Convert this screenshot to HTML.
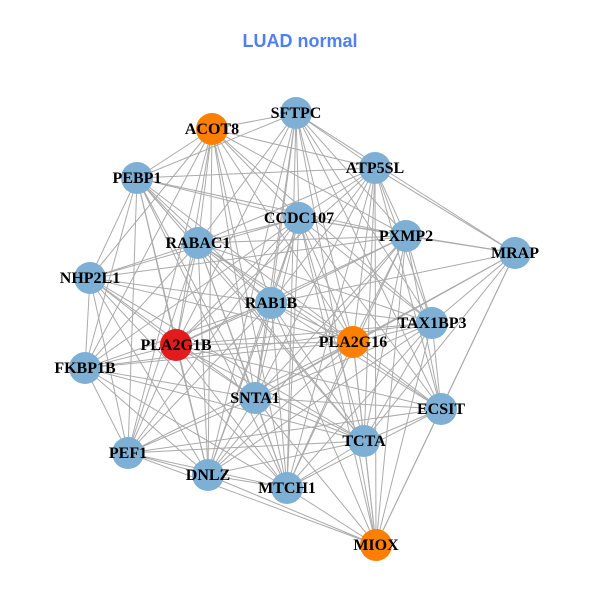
<!DOCTYPE html>
<html><head><meta charset="utf-8"><style>
html,body{margin:0;padding:0;background:#fff;}
svg{display:block;}
text.l{font-family:"Liberation Serif",serif;font-weight:bold;font-size:16px;fill:#000;text-anchor:middle;}
</style></head><body>
<svg id="s" width="600" height="600" viewBox="0 0 600 600">
<text x="300" y="47" text-anchor="middle" style="font-family:'Liberation Sans',sans-serif;font-weight:bold;font-size:18px;fill:#4f7ff0">LUAD normal</text>
<g id="e" stroke="#aaaaaa" stroke-width="1"></g>
<g id="n"></g>
</svg>
<script>
var N={ACOT8:[212,129,'#ff7f00'],SFTPC:[296,113],ATP5SL:[375,168],PEBP1:[137,178],CCDC107:[299,218],PXMP2:[406,236],RABAC1:[198,243],MRAP:[515,253],NHP2L1:[90,278],RAB1B:[271,303],TAX1BP3:[432,323],PLA2G16:[353,342,'#ff7f00'],PLA2G1B:[176,345,'#e41a1c'],FKBP1B:[85,368],SNTA1:[255,398],ECSIT:[441,409],TCTA:[364,441],PEF1:[128,453],DNLZ:[208,475],MTCH1:[287,488],MIOX:[376,545,'#ff7f00']};
var ex={MRAP:['PEBP1','NHP2L1','FKBP1B','PEF1','DNLZ','PLA2G1B','ACOT8','RABAC1','MTCH1'],NHP2L1:['ECSIT','TAX1BP3','MIOX','ATP5SL','SFTPC'],FKBP1B:['ATP5SL','SFTPC','PXMP2','ECSIT','MIOX'],PEF1:['SFTPC','ATP5SL','PXMP2','TAX1BP3'],DNLZ:['ATP5SL','ECSIT'],MIOX:['PEBP1','ACOT8','RABAC1','PLA2G1B'],SFTPC:['TCTA'],ACOT8:['ECSIT','TCTA'],PEBP1:['ECSIT','TAX1BP3']};
function bad(a,b){return (ex[a]&&ex[a].indexOf(b)>=0)||(ex[b]&&ex[b].indexOf(a)>=0);}
var k=Object.keys(N),ns='http://www.w3.org/2000/svg',E=document.getElementById('e'),G=document.getElementById('n');
for(var i=0;i<k.length;i++)for(var j=i+1;j<k.length;j++){if(bad(k[i],k[j]))continue;var l=document.createElementNS(ns,'line');var a=N[k[i]],b=N[k[j]];l.setAttribute('x1',a[0]);l.setAttribute('y1',a[1]);l.setAttribute('x2',b[0]);l.setAttribute('y2',b[1]);E.appendChild(l);}
k.forEach(function(n){var p=N[n];var c=document.createElementNS(ns,'circle');c.setAttribute('cx',p[0]);c.setAttribute('cy',p[1]);c.setAttribute('r',16);c.setAttribute('fill',p[2]||'#7eb0d5');G.appendChild(c);});
k.forEach(function(n){var p=N[n];var t=document.createElementNS(ns,'text');t.setAttribute('x',p[0]);t.setAttribute('y',p[1]+5);t.setAttribute('class','l');t.textContent=n;G.appendChild(t);});
</script>
</body></html>
